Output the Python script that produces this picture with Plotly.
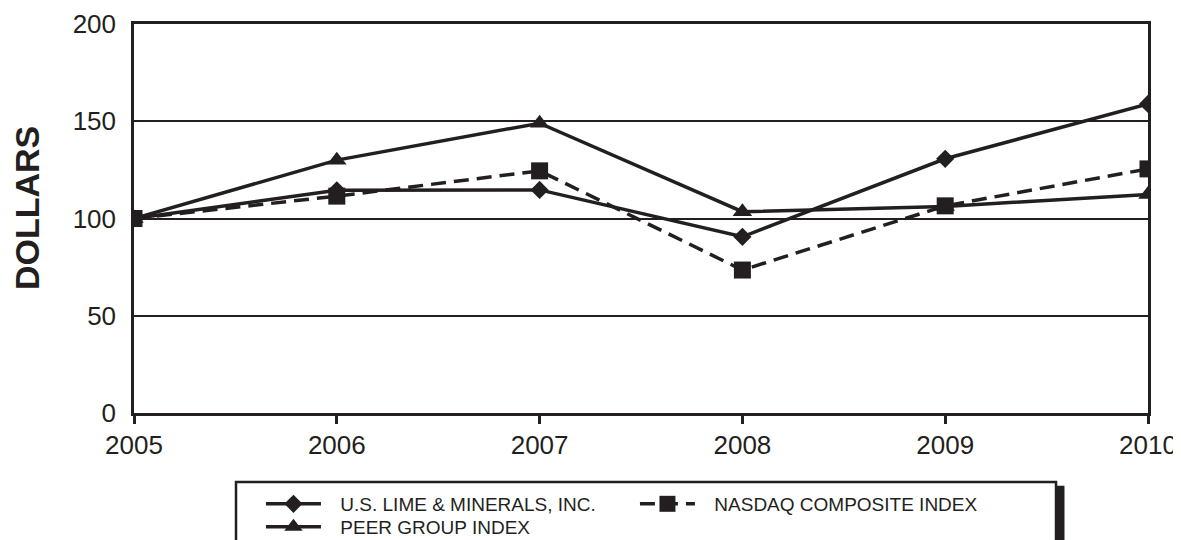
import plotly.graph_objects as go

years = [2005, 2006, 2007, 2008, 2009, 2010]
us_lime = [100, 114.5, 114.7, 90.6, 130.7, 158.9]
peer_group = [100, 130, 149, 103.5, 106.2, 112.4]
nasdaq = [100, 111.5, 124.5, 73.5, 106.5, 125.5]
y_ticks = [0, 50, 100, 150, 200]

INK = "#231f20"
FONT = "Liberation Sans, Arial, sans-serif"
PAD = "\u00a0\u00a0\u2009"

fig = go.Figure()
fig.add_trace(go.Scatter(
    x=years, y=us_lime, name=PAD + "U.S. LIME & MINERALS, INC.", mode="lines+markers",
    line=dict(color=INK, width=3.5), marker=dict(symbol="diamond", size=14, color=INK),
    legend="legend", legendrank=1))
fig.add_trace(go.Scatter(
    x=years, y=nasdaq, name=PAD + "NASDAQ COMPOSITE INDEX", mode="lines+markers",
    line=dict(color=INK, width=3.5, dash="15px,8px"), marker=dict(symbol="square", size=17, color=INK),
    legend="legend", legendrank=2))
fig.add_trace(go.Scatter(
    x=years, y=peer_group, name=PAD + "PEER GROUP INDEX", mode="lines+markers",
    line=dict(color=INK, width=3.5), marker=dict(symbol="triangle-up", size=17, color=INK),
    legend="legend2", legendrank=3))

legend_common = dict(
    orientation="h", xanchor="left", yanchor="top",
    font=dict(size=19, family=FONT, color=INK),
    itemwidth=55, entrywidth=304, entrywidthmode="pixels",
    bgcolor="rgba(0,0,0,0)", borderwidth=0, traceorder="normal",
    itemclick=False, itemdoubleclick=False,
)

fig.update_layout(
    width=1173, height=532,
    margin=dict(l=126, r=33, t=16, b=127, autoexpand=False),
    paper_bgcolor="white", plot_bgcolor="white",
    font=dict(family=FONT, color=INK),
    showlegend=True,
    legend=dict(x=0.1252, y=-0.185, **legend_common),
    legend2=dict(x=0.1252, y=-0.244, **legend_common),
    xaxis=dict(
        range=[2005, 2010], tickvals=years, ticktext=[str(y) for y in years],
        showgrid=False, zeroline=False, automargin=False,
        showline=True, linecolor=INK, linewidth=2.5, mirror=True,
        ticks="outside", ticklen=8, tickwidth=2.5, tickcolor=INK,
        tickfont=dict(size=26, family=FONT, color=INK),
        ticklabelstandoff=-1,
    ),
    yaxis=dict(
        range=[0, 200], tickvals=y_ticks, ticktext=[str(v) for v in y_ticks],
        showgrid=True, gridcolor=INK, gridwidth=2.2, zeroline=False, automargin=False,
        showline=True, linecolor=INK, linewidth=2.5, mirror=True,
        ticks="", tickfont=dict(size=26, family=FONT, color=INK),
        ticklabelstandoff=10,
    ),
    annotations=[dict(
        text="<b>DOLLARS</b>", xref="paper", yref="paper",
        x=-0.1055, y=0.527, xanchor="center", yanchor="middle",
        textangle=-90, showarrow=False,
        font=dict(size=34, family=FONT, color=INK),
    )],
    shapes=[
        dict(type="rect", xref="paper", yref="paper",
             x0=0.1006, x1=0.9093, y0=-0.1774, y1=-0.5,
             line=dict(color=INK, width=2.5), fillcolor="rgba(0,0,0,0)", layer="below"),
        dict(type="line", xref="paper", yref="paper",
             x0=0.9132, x1=0.9132, y0=-0.187, y1=-0.5,
             line=dict(color=INK, width=9)),
    ],
)

fig.write_html("out.html")
